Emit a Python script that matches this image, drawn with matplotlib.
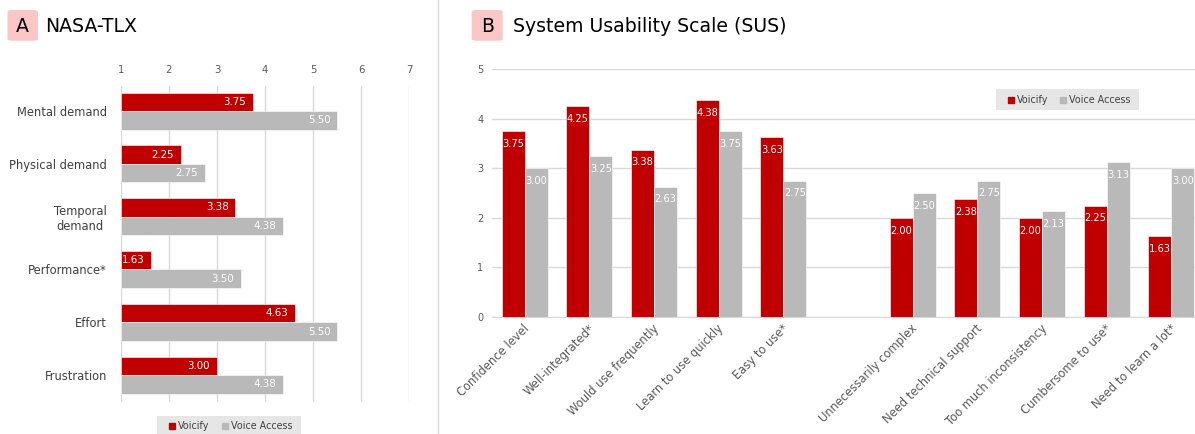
import matplotlib
matplotlib.use('Agg')
import matplotlib.pyplot as plt
from matplotlib.patches import FancyBboxPatch, Rectangle
from matplotlib.lines import Line2D
import matplotlib.transforms as mtransforms
import numpy as np

plt.rcParams['font.family'] = ['DejaVu Sans']

# ---------------- data ----------------
tlx_categories = ['Mental demand', 'Physical demand', 'Temporal\ndemand',
                  'Performance*', 'Effort', 'Frustration']
tlx_voicify = [3.75, 2.25, 3.38, 1.63, 4.63, 3.00]
tlx_voice_access = [5.50, 2.75, 4.38, 3.50, 5.50, 4.38]
tlx_ticks = [1, 2, 3, 4, 5, 6, 7]

sus_pos_categories = ['Confidence level', 'Well-integrated*', 'Would use frequently',
                      'Learn to use quickly', 'Easy to use*']
sus_pos_voicify = [3.75, 4.25, 3.38, 4.38, 3.63]
sus_pos_voice_access = [3.00, 3.25, 2.63, 3.75, 2.75]

sus_neg_categories = ['Unnecessarily complex', 'Need technical support',
                      'Too much inconsistency', 'Cumbersome to use*', 'Need to learn a lot*']
sus_neg_voicify = [2.00, 2.38, 2.00, 2.25, 1.63]
sus_neg_voice_access = [2.50, 2.75, 2.13, 3.13, 3.00]
sus_ticks = [0, 1, 2, 3, 4, 5]

series_names = ['Voicify', 'Voice Access']

RED = '#C00000'
GRAY = '#B9B9B9'
GRID = '#D9D9D9'
TXT = '#595959'
PINK = '#FBC6C6'
LEGBG = '#E7E6E6'

W, H = 1195, 434
fig = plt.figure(figsize=(W / 100, H / 100), dpi=100)

def fx(px):
    return px / W

def fy(py):
    return 1 - py / H

# ---------------- Panel A ----------------
axA = fig.add_axes([fx(120.7), fy(402), fx(409.3) - fx(120.7), fy(86) - fy(402)])
yA = np.arange(len(tlx_categories))
hA = 0.35
axA.barh(yA - hA / 2, np.array(tlx_voicify) - 1, left=1, height=hA, color=RED,
         edgecolor='white', linewidth=0.4, zorder=3)
axA.barh(yA + hA / 2, np.array(tlx_voice_access) - 1, left=1, height=hA, color=GRAY,
         edgecolor='white', linewidth=0.4, zorder=3)
for i, (v1, v2) in enumerate(zip(tlx_voicify, tlx_voice_access)):
    axA.annotate(f'{v1:.2f}', (v1, i - hA / 2), xytext=(-4.8, 0), textcoords='offset points',
                 ha='right', va='center', color='white', fontsize=7.4, zorder=4)
    axA.annotate(f'{v2:.2f}', (v2, i + hA / 2), xytext=(-4.8, 0), textcoords='offset points',
                 ha='right', va='center', color='white', fontsize=7.4, zorder=4)
axA.set_xlim(1, 7)
axA.set_ylim(5.51, -0.474)
axA.set_xticks(tlx_ticks)
axA.xaxis.tick_top()
axA.tick_params(axis='x', length=0, pad=8, labelsize=7.3, labelcolor=TXT)
axA.set_yticks(yA)
axA.set_yticklabels(tlx_categories, fontsize=8.3, color='#404040')
axA.tick_params(axis='y', length=0, pad=10)
for lbl in axA.get_yticklabels():
    lbl.set_multialignment('center')
    lbl.set_linespacing(1.2)
axA.grid(axis='x', color=GRID, linewidth=1, zorder=0)
for s in axA.spines.values():
    s.set_visible(False)

# ---------------- Panel B ----------------
n_pos = len(sus_pos_categories)
xB = np.concatenate([np.arange(n_pos), np.arange(len(sus_neg_categories)) + n_pos + 1])
cats_B = sus_pos_categories + sus_neg_categories
vB1 = sus_pos_voicify + sus_neg_voicify
vB2 = sus_pos_voice_access + sus_neg_voice_access
x0px, step = 524.7, 64.66
left_idx, right_idx = -0.51, 10.51
axB = fig.add_axes([fx(x0px + left_idx * step), fy(317), fx((right_idx - left_idx) * step),
                    fy(69.3) - fy(317)])
wB = 0.356
axB.bar(xB - wB / 2, vB1, width=wB, color=RED, edgecolor='white', linewidth=0.4, zorder=3)
axB.bar(xB + wB / 2, vB2, width=wB, color=GRAY, edgecolor='white', linewidth=0.4, zorder=3)
for x, v1, v2 in zip(xB, vB1, vB2):
    axB.annotate(f'{v1:.2f}', (x - wB / 2, v1), xytext=(0, -5.5), textcoords='offset points',
                 ha='center', va='top', color='white', fontsize=7.1, zorder=4)
    axB.annotate(f'{v2:.2f}', (x + wB / 2, v2), xytext=(0, -5.5), textcoords='offset points',
                 ha='center', va='top', color='white', fontsize=7.1, zorder=4)
axB.set_xlim(left_idx, right_idx)
axB.set_ylim(0, 5)
axB.set_yticks(sus_ticks)
axB.tick_params(axis='y', length=0, pad=6, labelsize=7, labelcolor=TXT)
axB.set_xticks(xB)
axB.set_xticklabels(cats_B, rotation=45, ha='right', va='center', rotation_mode='anchor',
                    fontsize=8.3, color=TXT)
axB.tick_params(axis='x', length=0, pad=7)
shift = mtransforms.ScaledTranslation(3 / 100, 0, fig.dpi_scale_trans)
for lbl in axB.get_xticklabels():
    lbl.set_transform(lbl.get_transform() + shift)
axB.grid(axis='y', color=GRID, linewidth=1, zorder=0)
for s in ['top', 'right', 'left']:
    axB.spines[s].set_visible(False)
axB.spines['bottom'].set_color(GRID)

# ---------------- legends ----------------
handles = [Line2D([0], [0], marker='s', linestyle='none', markersize=4.9, color=RED),
           Line2D([0], [0], marker='s', linestyle='none', markersize=4.9, color=GRAY)]
# (box x0, box x1, box y0, box y1, first square x, text center y)
for (bx0, bx1, by0, by1, sx, cy) in [(157, 301, 416, 436, 169, 426),
                                     (995.7, 1139, 89, 110, 1007.7, 100)]:
    fig.patches.append(Rectangle((fx(bx0), fy(by1)), fx(bx1 - bx0), fy(by0) - fy(by1),
                                 transform=fig.transFigure, fc=LEGBG, ec='none', zorder=0))
    lg = fig.legend(handles, series_names, loc='center left', bbox_to_anchor=(fx(sx), fy(cy)),
                    ncol=2, frameon=False, fontsize=6.9, handlelength=0.7, handletextpad=0.26,
                    columnspacing=1.22, borderpad=0, borderaxespad=0)
    for t in lg.get_texts():
        t.set_color('#404040')

# ---------------- titles ----------------
for (bx0, bx1, letter, title, tx) in [(7.5, 38, 'A', 'NASA-TLX', 45),
                                      (471.7, 502.7, 'B', 'System Usability Scale (SUS)', 512.7)]:
    fig.patches.append(FancyBboxPatch((fx(bx0), fy(40.7)), fx(bx1 - bx0), fy(10) - fy(40.7),
                                      boxstyle='round,pad=0,rounding_size=0.004',
                                      transform=fig.transFigure, fc=PINK, ec='none'))
    fig.text(fx((bx0 + bx1) / 2), fy(26.3), letter, ha='center', va='center', fontsize=13.6,
             color='black')
    fig.text(fx(tx), fy(26.3), title, ha='left', va='center', fontsize=13.6, color='black')

# separator
fig.add_artist(Line2D([fx(438), fx(438)], [0, 1], transform=fig.transFigure,
                      color=GRID, linewidth=1))

fig.savefig('out.png', dpi=100)
